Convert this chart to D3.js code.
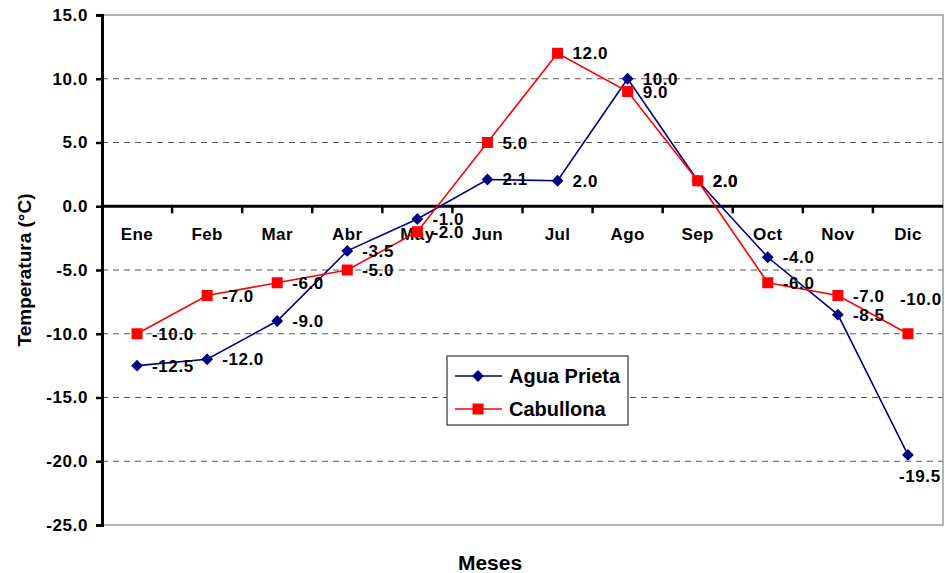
<!DOCTYPE html>
<html>
<head>
<meta charset="utf-8">
<script src="https://cdn.jsdelivr.net/npm/d3@7"></script>
<style>
  html, body { margin: 0; padding: 0; background: #fff; }
  svg text { font-family: "Liberation Sans", Arial, sans-serif; font-weight: bold; fill: #000; }
</style>
</head>
<body>
<svg id="chart" width="945" height="573"></svg>
<script>
// Monthly temperatures (°C)
const months = ["Ene", "Feb", "Mar", "Abr", "May", "Jun", "Jul", "Ago", "Sep", "Oct", "Nov", "Dic"];
const aguaPrieta = [-12.5, -12.0, -9.0, -3.5, -1.0, 2.1, 2.0, 10.0, 2.0, -4.0, -8.5, -19.5];
const cabullona = [-10.0, -7.0, -6.0, -5.0, -2.0, 5.0, 12.0, 9.0, 2.0, -6.0, -7.0, -10.0];
const yTicks = [15, 10, 5, 0, -5, -10, -15, -20, -25];
const seriesNames = ["Agua Prieta", "Cabullona"];

const fmt = v => v.toFixed(1);   // plain hyphen-minus, one decimal

const svg = d3.select("#chart");
const plotLeft = 102, plotRight = 943, plotTop = 15, plotBottom = 525;

const x = d3.scaleBand().domain(months).range([plotLeft, plotRight]);
const y = d3.scaleLinear().domain([-25, 15]).range([plotBottom, plotTop]);

// Dashed horizontal gridlines
svg.append("g")
  .selectAll("line")
  .data(yTicks.filter(t => t !== 15 && t !== -25 && t !== 0))
  .join("line")
  .attr("x1", plotLeft).attr("x2", plotRight)
  .attr("y1", d => y(d)).attr("y2", d => y(d))
  .attr("stroke", "#555").attr("stroke-width", 1.2)
  .attr("stroke-dasharray", "6,5");

// Plot area frame (top, right, bottom)
svg.append("path")
  .attr("d", `M${plotLeft},${plotTop}H${plotRight}V${plotBottom}H${plotLeft}`)
  .attr("fill", "none").attr("stroke", "#9a9a9a").attr("stroke-width", 1.5);

// Y axis
const yAxis = svg.append("g")
  .attr("transform", `translate(${plotLeft},0)`)
  .call(d3.axisLeft(y).tickValues(yTicks).tickSize(6).tickPadding(8).tickFormat(fmt));
yAxis.attr("font-family", null).attr("font-size", null);
yAxis.select(".domain").attr("stroke", "#000").attr("stroke-width", 3);
yAxis.selectAll(".tick line").attr("stroke", "#000").attr("stroke-width", 2.5);
yAxis.selectAll(".tick text")
  .style("font-size", "17px").style("letter-spacing", "0.6px");

// X axis along zero with ticks at category boundaries
const xAxisY = y(0);
svg.append("line")
  .attr("x1", plotLeft).attr("x2", plotRight)
  .attr("y1", xAxisY).attr("y2", xAxisY)
  .attr("stroke", "#000").attr("stroke-width", 3);
svg.append("g")
  .selectAll("line")
  .data(months.slice(1))
  .join("line")
  .attr("x1", d => x(d)).attr("x2", d => x(d))
  .attr("y1", xAxisY).attr("y2", xAxisY + 7)
  .attr("stroke", "#000").attr("stroke-width", 2.5);
svg.append("g")
  .selectAll("text")
  .data(months)
  .join("text")
  .attr("x", d => x(d) + x.bandwidth() / 2)
  .attr("y", xAxisY + 34)
  .attr("text-anchor", "middle")
  .style("font-size", "17px").style("letter-spacing", "0.4px")
  .text(d => d);

// Axis titles
svg.append("text")
  .attr("transform", `translate(31,${(plotTop + plotBottom) / 2}) rotate(-90)`)
  .attr("text-anchor", "middle")
  .style("font-size", "19px")
  .text("Temperatura (°C)");
svg.append("text")
  .attr("x", 490)
  .attr("y", 570)
  .attr("text-anchor", "middle")
  .style("font-size", "21px")
  .text("Meses");

const cx = i => x(months[i]) + x.bandwidth() / 2;
const line = d3.line().x((d, i) => cx(i)).y(d => y(d));
const diamondPath = d3.symbol().type(d3.symbolSquare).size(70);

function drawSeries(values, color, marker) {
  const g = svg.append("g");
  g.append("path")
    .datum(values)
    .attr("d", line)
    .attr("fill", "none")
    .attr("stroke", color)
    .attr("stroke-width", 1.6);
  if (marker === "diamond") {
    g.selectAll("path.m")
      .data(values)
      .join("path")
      .attr("class", "m")
      .attr("transform", (d, i) => `translate(${cx(i)},${y(d)}) rotate(45)`)
      .attr("d", diamondPath)
      .attr("fill", color);
  } else {
    g.selectAll("rect")
      .data(values)
      .join("rect")
      .attr("x", (d, i) => cx(i) - 5.5)
      .attr("y", d => y(d) - 5.5)
      .attr("width", 11).attr("height", 11)
      .attr("fill", color);
  }
}

drawSeries(aguaPrieta, "#000080", "diamond");
drawSeries(cabullona, "#ff0000", "square");

// Value labels: to the right of each point, except where the right edge forces a shift
function labelPos(series, i, v) {
  const px = cx(i), py = y(v);
  if (i === months.length - 1) {
    return series === 0 ? [px - 9, py + 27] : [px - 8, py - 29];
  }
  return [px + 15, py + 6];
}
[aguaPrieta, cabullona].forEach((vals, s) => {
  svg.append("g")
    .selectAll("text")
    .data(vals)
    .join("text")
    .attr("x", (d, i) => labelPos(s, i, d)[0])
    .attr("y", (d, i) => labelPos(s, i, d)[1])
    .style("font-size", "17px").style("letter-spacing", "0.6px")
    .text(fmt);
});

// Legend
const lg = svg.append("g").attr("transform", "translate(447,356)");
lg.append("rect")
  .attr("width", 181).attr("height", 69)
  .attr("fill", "#fff").attr("stroke", "#333").attr("stroke-width", 1.2);
seriesNames.forEach((name, k) => {
  const ly = 20 + k * 33;
  const color = k === 0 ? "#000080" : "#ff0000";
  lg.append("line")
    .attr("x1", 8).attr("x2", 55).attr("y1", ly).attr("y2", ly)
    .attr("stroke", color).attr("stroke-width", 1.6);
  if (k === 0) {
    lg.append("path")
      .attr("transform", `translate(31,${ly}) rotate(45)`)
      .attr("d", diamondPath)
      .attr("fill", color);
  } else {
    lg.append("rect")
      .attr("x", 25.5).attr("y", ly - 5.5).attr("width", 11).attr("height", 11)
      .attr("fill", color);
  }
  lg.append("text")
    .attr("x", 62).attr("y", ly + 7)
    .style("font-size", "20px")
    .text(name);
});
</script>
</body>
</html>
